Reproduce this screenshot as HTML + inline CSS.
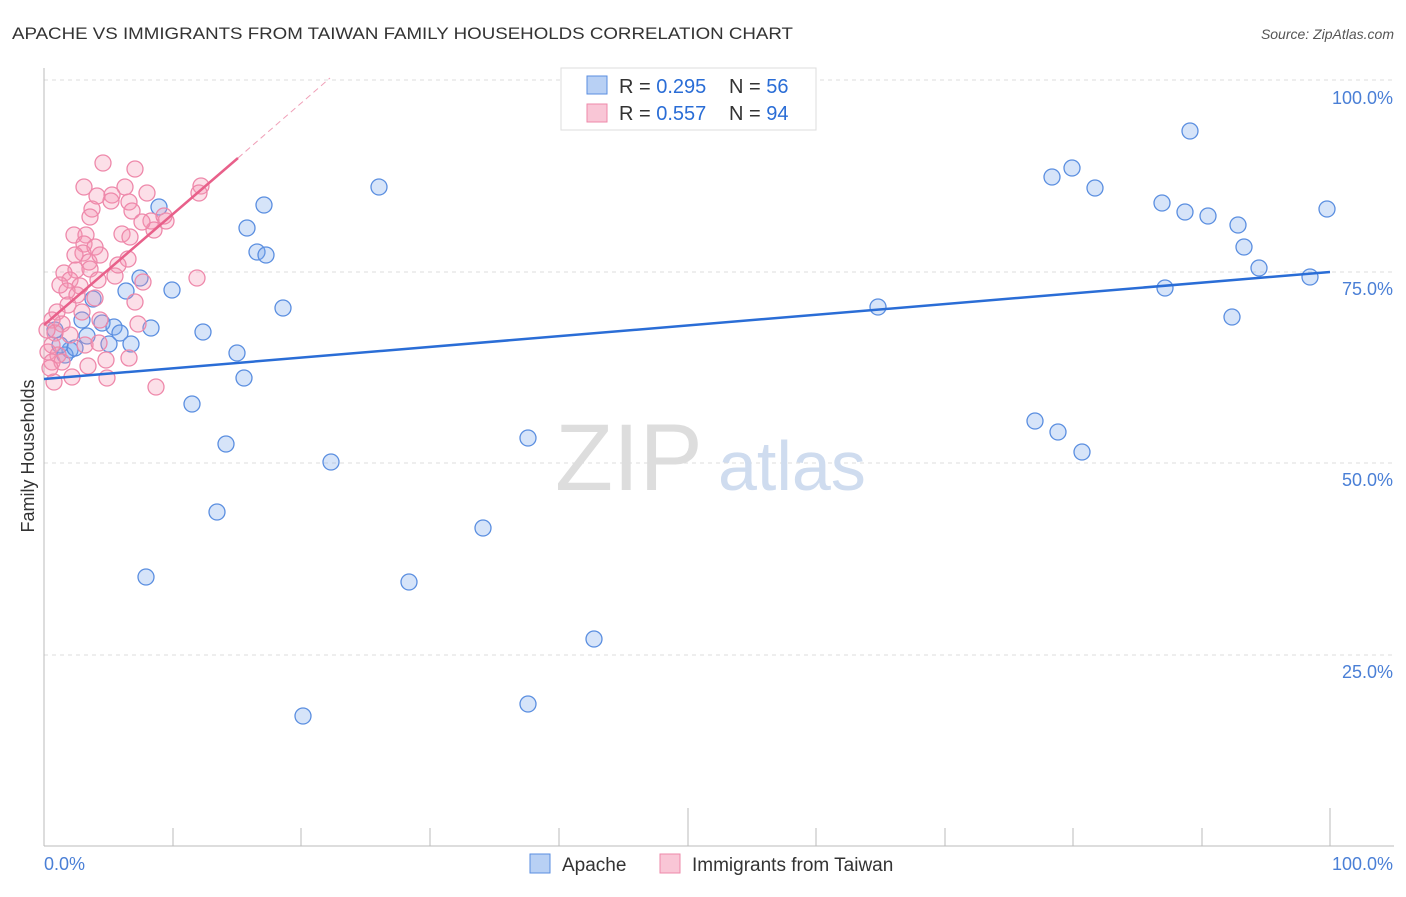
<!DOCTYPE html>
<html><head><meta charset="utf-8"><style>
body{margin:0;background:#fff;font-family:"Liberation Sans",sans-serif;}
svg text{font-family:"Liberation Sans",sans-serif;}
</style></head><body>
<svg width="1406" height="892" xmlns="http://www.w3.org/2000/svg">
<text x="12" y="39" font-size="17" fill="#333" textLength="781" lengthAdjust="spacingAndGlyphs">APACHE VS IMMIGRANTS FROM TAIWAN FAMILY HOUSEHOLDS CORRELATION CHART</text>
<text x="1394" y="39" font-size="14" fill="#555" font-style="italic" text-anchor="end">Source: ZipAtlas.com</text>
<g stroke="#ddd" stroke-dasharray="4,4" stroke-width="1">
<line x1="44" y1="80" x2="1394" y2="80"/><line x1="44" y1="272" x2="1394" y2="272"/>
<line x1="44" y1="463" x2="1394" y2="463"/><line x1="44" y1="655" x2="1394" y2="655"/>
</g>
<line x1="44" y1="68" x2="44" y2="846" stroke="#bbb"/>
<line x1="44" y1="846" x2="1394" y2="846" stroke="#bbb"/>
<g stroke="#bbb">
<line x1="173" y1="828" x2="173" y2="846"/><line x1="301" y1="828" x2="301" y2="846"/><line x1="430" y1="828" x2="430" y2="846"/><line x1="559" y1="828" x2="559" y2="846"/><line x1="688" y1="808" x2="688" y2="846"/><line x1="816" y1="828" x2="816" y2="846"/><line x1="945" y1="828" x2="945" y2="846"/><line x1="1073" y1="828" x2="1073" y2="846"/><line x1="1202" y1="828" x2="1202" y2="846"/><line x1="1330" y1="808" x2="1330" y2="846"/>
</g>
<g font-size="18" fill="#4a7fd6" text-anchor="end">
<text x="1393" y="104">100.0%</text><text x="1393" y="295">75.0%</text><text x="1393" y="486">50.0%</text><text x="1393" y="678">25.0%</text>
</g>
<text x="44" y="870" font-size="18" fill="#4a7fd6">0.0%</text>
<text x="1393" y="870" font-size="18" fill="#4a7fd6" text-anchor="end">100.0%</text>
<text x="34" y="456" font-size="18" fill="#333" transform="rotate(-90 34 456)" text-anchor="middle">Family Households</text>
<text x="555" y="490" font-size="95" fill="#ddd" font-family="Liberation Serif">ZIP</text>
<text x="718" y="490" font-size="70" fill="#cfdcef">atlas</text>
<g fill="rgba(120,165,235,0.3)" stroke="#5a8ee0" stroke-width="1.3">
<circle cx="1190" cy="131" r="8"/><circle cx="1072" cy="168" r="8"/><circle cx="1052" cy="177" r="8"/><circle cx="1095" cy="188" r="8"/><circle cx="1162" cy="203" r="8"/><circle cx="1185" cy="212" r="8"/><circle cx="1208" cy="216" r="8"/><circle cx="1238" cy="225" r="8"/><circle cx="1244" cy="247" r="8"/><circle cx="1259" cy="268" r="8"/><circle cx="1310" cy="277" r="8"/><circle cx="1327" cy="209" r="8"/><circle cx="1165" cy="288" r="8"/><circle cx="1232" cy="317" r="8"/><circle cx="878" cy="307" r="8"/><circle cx="1035" cy="421" r="8"/><circle cx="1058" cy="432" r="8"/><circle cx="1082" cy="452" r="8"/><circle cx="379" cy="187" r="8"/><circle cx="264" cy="205" r="8"/><circle cx="247" cy="228" r="8"/><circle cx="257" cy="252" r="8"/><circle cx="266" cy="255" r="8"/><circle cx="159" cy="207" r="8"/><circle cx="140" cy="278" r="8"/><circle cx="126" cy="291" r="8"/><circle cx="172" cy="290" r="8"/><circle cx="93" cy="299" r="8"/><circle cx="283" cy="308" r="8"/><circle cx="151" cy="328" r="8"/><circle cx="203" cy="332" r="8"/><circle cx="82" cy="320" r="8"/><circle cx="102" cy="323" r="8"/><circle cx="114" cy="327" r="8"/><circle cx="120" cy="333" r="8"/><circle cx="87" cy="336" r="8"/><circle cx="109" cy="344" r="8"/><circle cx="131" cy="344" r="8"/><circle cx="70" cy="350" r="8"/><circle cx="65" cy="355" r="8"/><circle cx="237" cy="353" r="8"/><circle cx="244" cy="378" r="8"/><circle cx="192" cy="404" r="8"/><circle cx="226" cy="444" r="8"/><circle cx="331" cy="462" r="8"/><circle cx="528" cy="438" r="8"/><circle cx="217" cy="512" r="8"/><circle cx="483" cy="528" r="8"/><circle cx="146" cy="577" r="8"/><circle cx="409" cy="582" r="8"/><circle cx="594" cy="639" r="8"/><circle cx="303" cy="716" r="8"/><circle cx="528" cy="704" r="8"/><circle cx="55" cy="330" r="8"/><circle cx="60" cy="345" r="8"/><circle cx="75" cy="348" r="8"/>
</g>
<g fill="rgba(245,150,180,0.3)" stroke="#ee88aa" stroke-width="1.3">
<circle cx="103" cy="163" r="8"/><circle cx="135" cy="169" r="8"/><circle cx="84" cy="187" r="8"/><circle cx="125" cy="187" r="8"/><circle cx="112" cy="195" r="8"/><circle cx="147" cy="193" r="8"/><circle cx="111" cy="201" r="8"/><circle cx="129" cy="202" r="8"/><circle cx="132" cy="211" r="8"/><circle cx="201" cy="186" r="8"/><circle cx="199" cy="193" r="8"/><circle cx="92" cy="209" r="8"/><circle cx="90" cy="217" r="8"/><circle cx="151" cy="221" r="8"/><circle cx="166" cy="221" r="8"/><circle cx="154" cy="230" r="8"/><circle cx="74" cy="235" r="8"/><circle cx="86" cy="235" r="8"/><circle cx="122" cy="234" r="8"/><circle cx="130" cy="237" r="8"/><circle cx="84" cy="244" r="8"/><circle cx="95" cy="247" r="8"/><circle cx="83" cy="253" r="8"/><circle cx="128" cy="259" r="8"/><circle cx="89" cy="262" r="8"/><circle cx="76" cy="270" r="8"/><circle cx="90" cy="269" r="8"/><circle cx="64" cy="273" r="8"/><circle cx="70" cy="280" r="8"/><circle cx="98" cy="280" r="8"/><circle cx="80" cy="286" r="8"/><circle cx="67" cy="291" r="8"/><circle cx="77" cy="295" r="8"/><circle cx="115" cy="276" r="8"/><circle cx="135" cy="302" r="8"/><circle cx="197" cy="278" r="8"/><circle cx="60" cy="285" r="8"/><circle cx="68" cy="305" r="8"/><circle cx="82" cy="312" r="8"/><circle cx="57" cy="312" r="8"/><circle cx="62" cy="324" r="8"/><circle cx="52" cy="320" r="8"/><circle cx="55" cy="333" r="8"/><circle cx="100" cy="320" r="8"/><circle cx="138" cy="324" r="8"/><circle cx="52" cy="345" r="8"/><circle cx="48" cy="352" r="8"/><circle cx="58" cy="355" r="8"/><circle cx="52" cy="362" r="8"/><circle cx="62" cy="362" r="8"/><circle cx="85" cy="345" r="8"/><circle cx="99" cy="343" r="8"/><circle cx="106" cy="360" r="8"/><circle cx="129" cy="358" r="8"/><circle cx="88" cy="366" r="8"/><circle cx="72" cy="377" r="8"/><circle cx="107" cy="378" r="8"/><circle cx="54" cy="382" r="8"/><circle cx="156" cy="387" r="8"/><circle cx="50" cy="368" r="8"/><circle cx="70" cy="335" r="8"/><circle cx="47" cy="330" r="8"/><circle cx="95" cy="298" r="8"/><circle cx="75" cy="255" r="8"/><circle cx="118" cy="265" r="8"/><circle cx="100" cy="255" r="8"/><circle cx="143" cy="282" r="8"/><circle cx="164" cy="216" r="8"/><circle cx="97" cy="196" r="8"/><circle cx="142" cy="222" r="8"/>
</g>
<line x1="44" y1="379" x2="1330" y2="272" stroke="#2a6dd6" stroke-width="2.5"/>
<line x1="44" y1="325" x2="238" y2="158" stroke="#e8608a" stroke-width="2.5"/>
<line x1="238" y1="158" x2="330" y2="78" stroke="#f0a0b8" stroke-width="1" stroke-dasharray="6,4"/>
<rect x="561" y="68" width="255" height="62" fill="#fff" stroke="#ddd"/>
<rect x="587" y="76" width="20" height="18" fill="#b8d0f4" stroke="#5a8ee0"/>
<rect x="587" y="104" width="20" height="18" fill="#f9c6d6" stroke="#ee88aa"/>
<g font-size="20" fill="#333">
<text x="619" y="93">R = <tspan fill="#2a6dd6">0.295</tspan></text><text x="729" y="93">N = <tspan fill="#2a6dd6">56</tspan></text>
<text x="619" y="120">R = <tspan fill="#2a6dd6">0.557</tspan></text><text x="729" y="120">N = <tspan fill="#2a6dd6">94</tspan></text>
</g>
<rect x="530" y="854" width="20" height="19" fill="#b8d0f4" stroke="#5a8ee0"/>
<text x="562" y="871" font-size="19" fill="#333">Apache</text>
<rect x="660" y="854" width="20" height="19" fill="#f9c6d6" stroke="#ee88aa"/>
<text x="692" y="871" font-size="19" fill="#333">Immigrants from Taiwan</text>
</svg>
</body></html>
